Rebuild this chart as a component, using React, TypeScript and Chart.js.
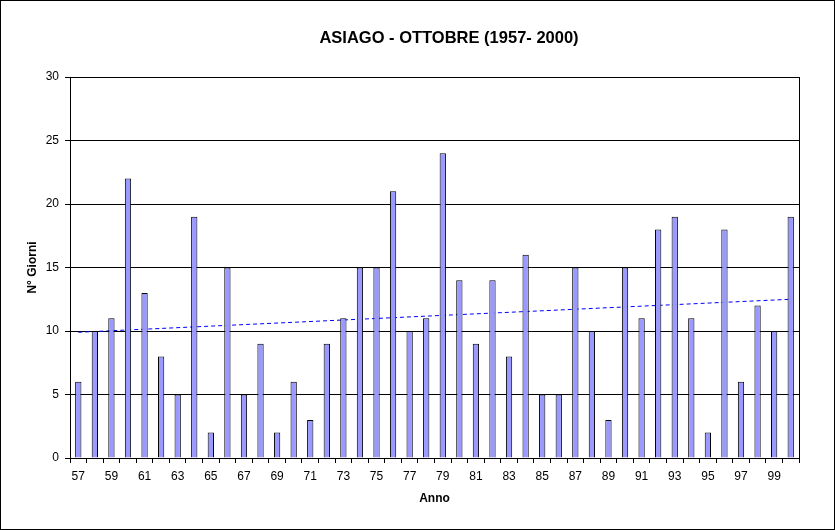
import React, { useEffect, useRef } from "react";
import { Chart, registerables } from "chart.js";

Chart.register(...registerables);

const years: string[] = [
  "57", "58", "59", "60", "61", "62", "63", "64", "65", "66",
  "67", "68", "69", "70", "71", "72", "73", "74", "75", "76",
  "77", "78", "79", "80", "81", "82", "83", "84", "85", "86",
  "87", "88", "89", "90", "91", "92", "93", "94", "95", "96",
  "97", "98", "99", "00",
];

const giorni: number[] = [
  6, 10, 11, 22, 13, 8, 5, 19, 2, 15,
  5, 9, 2, 6, 3, 9, 11, 15, 15, 21,
  10, 11, 24, 14, 9, 14, 8, 16, 5, 5,
  15, 10, 3, 15, 11, 18, 19, 11, 2, 18,
  6, 12, 10, 19,
];

// trend line endpoints (first and last year)
const trendStart = 9.9;
const trendEnd = 12.5;

const titleText = "ASIAGO - OTTOBRE (1957- 2000)";
const yTitle = "N° Giorni";
const xTitle = "Anno";

const FONT = "'Liberation Sans', Arial, sans-serif";

export default function App() {
  const ref = useRef<HTMLCanvasElement | null>(null);

  useEffect(() => {
    const canvas = ref.current;
    if (!canvas) return;

    const trend: (number | null)[] = years.map((_, i) =>
      i === 0 ? trendStart : i === years.length - 1 ? trendEnd : null
    );

    const framePlugin = {
      id: "frame",
      beforeDraw(chart: any) {
        const ctx = chart.ctx;
        ctx.save();
        ctx.fillStyle = "#ffffff";
        ctx.fillRect(0, 0, chart.width, chart.height);
        ctx.restore();
      },
      afterDraw(chart: any) {
        const ctx = chart.ctx;
        const a = chart.chartArea;
        ctx.save();
        ctx.strokeStyle = "#000000";
        ctx.lineWidth = 1;
        ctx.beginPath();
        ctx.moveTo(Math.round(a.right) + 0.5, Math.round(a.top));
        ctx.lineTo(Math.round(a.right) + 0.5, Math.round(a.bottom) + 1);
        ctx.stroke();
        ctx.strokeRect(0.5, 0.5, chart.width - 1, chart.height - 1);
        ctx.fillStyle = "#000000";
        ctx.font = `bold 16.5px ${FONT}`;
        ctx.textAlign = "center";
        ctx.textBaseline = "middle";
        ctx.fillText(titleText, 449, 38);
        ctx.restore();
      },
    };

    const chart = new Chart(canvas, {
      type: "bar",
      data: {
        labels: years,
        datasets: [
          {
            type: "bar",
            label: "Giorni",
            data: giorni,
            backgroundColor: "#9999FF",
            borderColor: "#000000",
            borderWidth: 1,
            barPercentage: 0.38,
            categoryPercentage: 1,
            order: 1,
          } as any,
          {
            type: "line",
            label: "Tendenza",
            data: trend,
            borderColor: "#0000FF",
            borderWidth: 1,
            borderDash: [4, 3],
            pointRadius: 0,
            spanGaps: true,
            fill: false,
            order: 2,
          } as any,
        ],
      },
      options: {
        responsive: false,
        animation: false,
        maintainAspectRatio: false,
        layout: { padding: { top: 77, right: 36, left: 0, bottom: 0 } },
        plugins: {
          legend: { display: false },
          title: { display: false },
          tooltip: { enabled: false },
        },
        scales: {
          x: {
            offset: true,
            grid: {
              display: true,
              offset: true,
              drawOnChartArea: false,
              drawTicks: true,
              tickLength: 5,
              color: "#000000",
            },
            border: { display: true, color: "#000000", width: 1 },
            ticks: {
              autoSkip: false,
              maxRotation: 0,
              minRotation: 0,
              padding: 6,
              color: "#000000",
              font: { family: FONT, size: 12 },
              callback: (_v: any, i: number) => (i % 2 === 0 ? years[i] : ""),
            },
            title: {
              display: true,
              text: xTitle,
              color: "#000000",
              font: { family: FONT, size: 12, weight: "bold" },
              padding: { top: 0, bottom: 24 },
            },
            afterFit: (scale: any) => {
              scale.height = 72;
            },
          },
          y: {
            min: 0,
            max: 30,
            ticks: {
              stepSize: 5,
              padding: 6,
              color: "#000000",
              font: { family: FONT, size: 12 },
            },
            grid: {
              color: "#000000",
              lineWidth: 1,
              tickLength: 5,
              drawTicks: true,
            },
            border: { display: true, color: "#000000", width: 1 },
            title: {
              display: true,
              text: yTitle,
              color: "#000000",
              font: { family: FONT, size: 12, weight: "bold" },
              padding: { top: 25, bottom: 0 },
            },
            afterFit: (scale: any) => {
              scale.width = 70;
            },
          },
        },
      },
      plugins: [framePlugin],
    } as any);

    return () => chart.destroy();
  }, []);

  return (
    <div style={{ position: "fixed", left: 0, top: 0, width: 835, height: 530, background: "#fff" }}>
      <canvas ref={ref} width={835} height={530} style={{ display: "block", width: 835, height: 530 }} />
    </div>
  );
}
